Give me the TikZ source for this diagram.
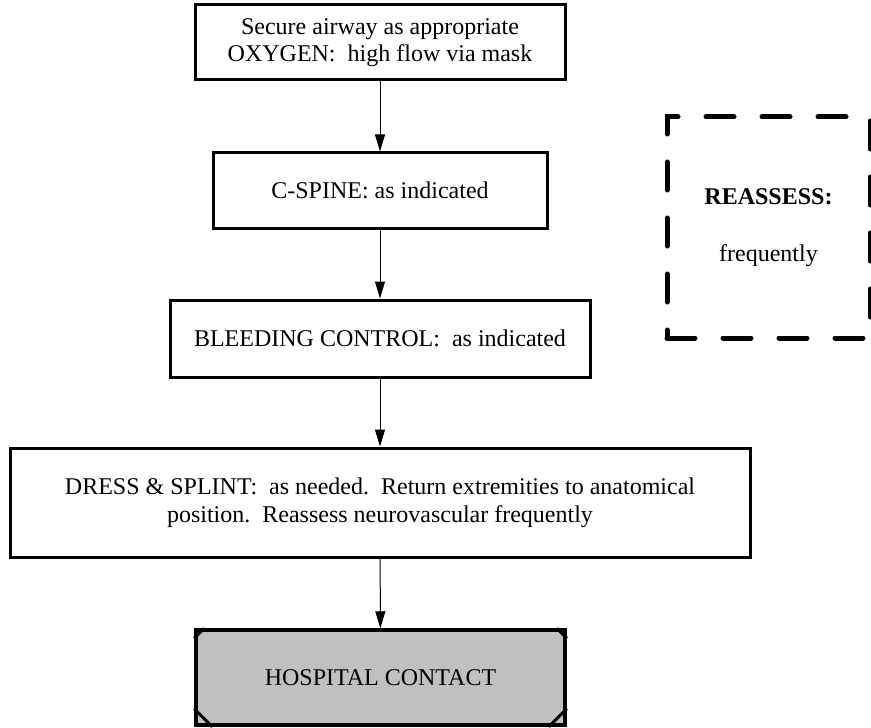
\documentclass[tikz,border=0pt]{standalone}
\usepackage{fontspec}
\setmainfont{Liberation Serif}
\usetikzlibrary{arrows.meta}
\definecolor{silver}{RGB}{192,192,192}
\begin{document}
\begin{tikzpicture}[x=0.5pt,y=-0.5pt,font=\fontsize{12}{13.8}\selectfont,line join=miter,>={Triangle[length=8.5pt,width=5pt]},
		box/.style={draw,line width=1.5pt,align=center,inner sep=0pt},
		link/.style={->,line width=0.5pt},
		recheck/.style={draw,line width=2.5pt,line cap=round,dash pattern=on 14pt off 14pt,align=center}]
			\useasboundingbox (0,0) rectangle (871,727);
			\node[box,minimum width=185pt,minimum height=37.5pt] (airway) at (380,42.5) {Secure airway as appropriate\\OXYGEN:\ \ high flow via mask};
			\node[box,minimum width=167pt,minimum height=37.5pt] (spine) at (380,190.5) {C-SPINE: as indicated};
			\node[box,minimum width=210pt,minimum height=38.5pt] (bleed) at (380,338.5) {BLEEDING CONTROL:\ \ as indicated};
			\node[box,minimum width=370pt,minimum height=54.5pt] (dress) at (380,502.5) {DRESS \& SPLINT:\ \ as needed.\ \ Return extremities to anatomical\\position.\ \ Reassess neurovascular frequently};
			\node[box,fill=silver,line width=1.75pt,minimum width=184.5pt,minimum height=47.5pt] (hosp) at (380.5,677.5) {HOSPITAL CONTACT};
			\draw[line width=1.5pt] ([yshift=-5pt]hosp.north west)--([xshift=5pt]hosp.north west) ([yshift=-5pt]hosp.north east)--([xshift=-5pt]hosp.north east)
				([yshift=9pt]hosp.south west)--([xshift=9pt]hosp.south west) ([yshift=9pt]hosp.south east)--([xshift=-9pt]hosp.south east);
			\node[recheck,minimum width=101.5pt,minimum height=110.5pt] (reassess) at (768.5,227.5) {\textbf{REASSESS:}\\[15pt]frequently};
			\draw[link] (airway)--(spine);
			\draw[link] (spine)--(bleed);
			\draw[link] (bleed)--(dress);
			\draw[link] (dress)--(hosp);
	\end{tikzpicture}
\end{document}
